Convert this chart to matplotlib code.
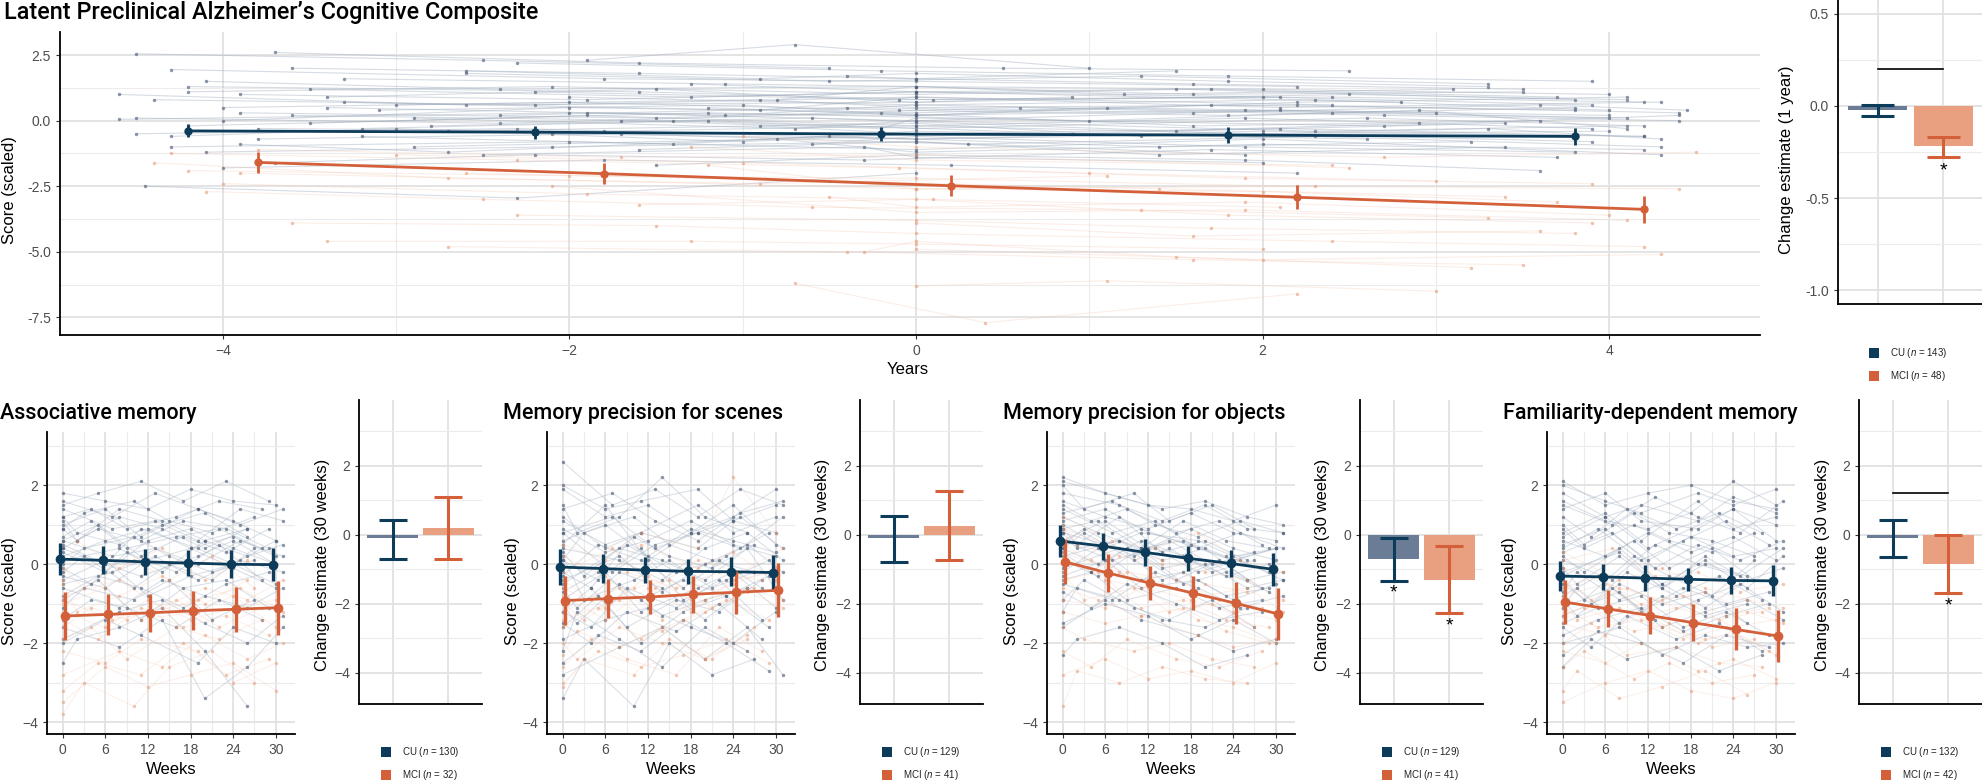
import matplotlib
matplotlib.use("Agg")
import matplotlib.pyplot as plt
from matplotlib.patches import Rectangle

# -------------------------------------------------------------------
# Data
# -------------------------------------------------------------------
# top panel: fitted means by year (CU dodged -0.2, MCI +0.2)
top_years = [-4, -2, 0, 2, 4]
top_cu_mean = [-0.39, -0.44, -0.51, -0.55, -0.60]
top_cu_err = [0.25, 0.25, 0.27, 0.29, 0.32]
top_mci_mean = [-1.59, -2.02, -2.48, -2.92, -3.38]
top_mci_err = [0.40, 0.39, 0.41, 0.45, 0.51]

# top bar panel: change estimate per year (est, low, high)
top_bar_est = [-0.02, -0.22]
top_bar_lo = [-0.053, -0.275]
top_bar_hi = [0.003, -0.167]
top_bar_star = [False, True]
top_bar_bracket = 0.2
top_n = [143, 48]

# individual trajectories, top panel (years, scores)
top_cu_x = [
    [-4.6, -2.0, 0.0, 1.9, 4.1], [-4.3, -1.8, 0.0, 2.2], [-4.5, -2.3, 0.0, 2.0, 3.9],
    [-4.2, -1.6, 0.1, 2.4, 4.3], [-4.0, -2.0, -0.1, 1.8, 3.8], [-3.9, -1.9, 0.0, 2.1],
    [-3.6, -1.4, 0.0, 2.6, 4.2], [-4.45, -2.3, 0.0], [-3.3, -1.1, 0.0, 2.0, 4.0],
    [-3.7, -2.2, -0.3, 1.7, 3.7], [-3.0, -0.9, 0.0, 2.2, 4.4], [-2.8, -0.6, 1.5, 3.4],
    [-4.1, -2.1, 0.0, 1.9], [-3.4, -1.5, 0.0, 2.5, 4.1], [-2.6, -0.5, 1.3, 3.3],
    [-4.5, -2.4, -0.2, 1.6, 3.6], [-3.8, -1.7, 0.3, 2.3, 4.3], [-2.3, -0.2, 1.8, 3.9],
    [-1.9, 0.0, 2.1, 4.0], [-3.2, -1.2, 0.9, 2.9], [-4.0, -2.0, 0.0, 1.7, 3.8],
    [-3.5, -1.3, 0.0, 2.8], [-2.9, -0.8, 0.0, 2.0, 4.2], [-1.5, 0.0, 1.9, 3.6],
    [-0.8, 0.0, 1.2, 3.1], [-4.3, -3.0, -1.0, 0.0], [-2.1, 0.0, 2.0, 4.2],
    [-3.1, -1.0, 0.0, 1.1, 3.0], [-0.4, 0.0, 1.6, 3.5], [-2.5, -0.3, 0.0, 2.0],
    [-4.2, -1.2, 1.0, 2.9, 4.1], [-3.9, -2.7, -0.5, 1.4, 3.2], [-1.2, 0.0, 2.2, 4.1],
    [-3.6, -1.6, 0.0, 1.5], [-0.6, 0.0, 1.9, 3.8], [-2.2, -0.1, 2.0, 3.9],
    [-4.6, -2.6, 0.0, 0.9], [-1.7, -0.2, 0.0, 2.7, 4.4], [-2.7, 0.0, 1.3, 3.3, 4.3],
    [-3.3, -0.9, 0.0, 2.4], [-1.9, -0.7, 1.0], [-3.8, -1.8, 0.0, 2.0, 4.0],
    [-2.4, -0.4, 1.6, 3.6, 4.45], [-4.5, -2.5, -0.5], [-3.7, -1.6, 0.5, 2.5],
    [-4.4, -2.2, 0.0, 2.1, 4.2], [-3.5, -1.9, 0.0, 1.9, 3.9], [-4.1, -2.4, 0.0, 1.6, 3.5],
    [-2.9, -0.7, 0.0, 2.3, 4.1], [-3.2, -1.4, 0.0, 2.6], [-4.3, -2.0, 0.0, 2.0, 4.3],
    [-1.3, 0.0, 1.7, 3.7], [-2.0, 0.0, 2.3, 4.0], [-3.9, -1.5, 0.6, 2.7, 4.4],
    [-0.9, 0.0, 2.1, 4.2], [-4.0, -1.8, 0.2, 2.2], [-2.6, -0.9, 0.0, 1.8, 3.3],
    [-3.4, -1.1, 0.0, 2.4, 4.0], [-1.6, 0.0, 1.4, 3.4], [-4.2, -2.1, 0.0, 1.5, 3.8],
]
top_cu_y = [
    [0.05, 0.3, 0.2, 0.4, 0.1], [1.95, 1.6, 1.5, 1.3], [-0.5, -0.3, -0.7, -0.5, -0.8],
    [1.3, 1.1, 0.8, 0.9, 0.7], [0.5, 0.7, 0.4, 0.2, 0.5], [1.0, 0.8, 1.1, 0.9],
    [0.2, 0.0, -0.3, 0.1, -0.2], [-2.5, -2.95, -2.0], [1.6, 1.4, 1.3, 1.2, 1.0],
    [-1.6, -1.3, -1.5, -1.1, -1.4], [0.6, 0.8, 0.5, 0.6, 0.3], [-0.2, 0.1, -0.4, -0.1],
    [-1.2, -1.0, -0.8, -1.3], [0.9, 1.2, 0.7, 1.0, 0.8], [1.8, 1.5, 1.7, 1.4],
    [0.1, -0.1, 0.3, -0.2, 0.0], [-0.7, -0.5, -0.9, -0.6, -1.0], [2.2, 1.9, 1.7, 1.5],
    [0.3, 0.0, 0.4, 0.2], [-0.3, 0.0, -0.5, -0.1], [0.0, 0.5, 0.3, 0.6, 0.4],
    [1.2, 0.9, 1.1, 0.7], [-1.0, -0.7, -1.2, -0.9, -1.1], [-1.7, -1.3, -1.5, -1.9],
    [0.8, 1.3, 1.0, 1.2], [-0.6, -0.3, -0.8, -0.5], [-0.5, -0.7, -0.4, -0.6],
    [0.4, 0.6, 0.2, 0.5, 0.3], [1.7, 1.6, 1.4, 1.2], [-1.3, -1.0, -1.4, -1.6],
    [-0.2, 0.3, 0.0, 0.4, -0.3], [-0.9, -1.2, -0.6, -1.0, -0.8], [0.5, 0.2, 0.7, 0.9],
    [2.0, 1.8, 1.6, 1.9], [-0.9, -0.6, -1.0, -1.2], [1.1, 0.8, 0.9, 0.6],
    [1.0, 0.6, 0.7, 0.9], [0.0, -0.3, 0.1, -0.2, 0.2], [-0.4, -0.1, -0.6, -0.3, -0.7],
    [0.7, 0.4, 0.9, 0.6], [2.3, 2.9, 2.0], [-0.3, -0.4, -0.2, -0.5, -0.4],
    [0.2, 0.5, 0.3, 0.6, 0.4], [2.55, 2.3, 2.0], [2.6, 2.2, 2.0, 1.9],
    [0.8, 0.6, 0.9, 0.5, 0.7], [-0.1, 0.2, -0.2, 0.1, -0.3], [1.5, 1.2, 1.3, 1.0, 1.1],
    [0.1, -0.3, 0.0, -0.4, -0.2], [-0.6, -0.9, -0.4, -0.7], [-1.0, -0.8, -1.1, -0.7, -1.3],
    [1.4, 1.1, 1.2, 0.9], [0.9, 0.6, 0.8, 0.4], [0.3, 0.1, 0.5, 0.2, 0.0],
    [-0.2, -0.5, -0.3, -0.6], [-1.8, -1.5, -1.7, -2.0], [1.9, 1.6, 1.8, 1.5, 1.3],
    [0.5, 0.2, 0.6, 0.3, 0.1], [-1.1, -0.8, -1.3, -1.0], [1.1, 1.3, 1.0, 1.2, 0.8],
]
top_mci_x = [
    [-4.3, -2.3, -0.1, 1.9, 3.9], [-4.0, -1.9, 0.1, 2.1], [-3.6, -1.5, 0.0, 2.4, 4.2],
    [-3.4, -1.3, 0.0, 2.0], [-2.7, -0.4, 1.6, 3.5], [-4.2, -2.0, 0.0, 2.2, 4.4],
    [-3.0, -1.0, 1.0, 3.0], [-2.1, 0.0, 1.9, 4.1], [-1.2, 0.0, 2.0, 3.7],
    [-0.3, 0.0, 1.5, 3.2], [-3.8, -1.7, 0.0, 2.5], [-0.7, 0.4, 2.2],
    [-1.6, 0.0, 1.8, 3.9], [-2.6, -0.5, 1.4, 3.4], [0.0, 1.6, 3.6],
    [-4.4, -2.7, -0.9, 1.1], [-1.0, 0.0, 2.7, 4.5], [0.0, 1.1, 3.0],
    [-3.9, -1.8, 0.0, 2.3], [-2.3, 0.0, 1.7, 3.8], [-1.3, 0.0, 2.4],
    [-0.5, 0.0, 1.9, 4.0], [-4.1, -2.5, -0.6, 1.3, 3.3], [0.0, 2.0, 4.3],
]
top_mci_y = [
    [-1.25, -1.5, -1.8, -2.2, -2.4], [-2.4, -2.8, -3.0, -3.3], [-3.9, -4.0, -4.3, -4.6, -4.8],
    [-4.6, -4.6, -4.7, -4.9], [-4.8, -5.0, -5.3, -5.5], [-1.9, -2.1, -2.2, -2.5, -2.6],
    [-1.3, -1.6, -2.0, -2.3], [-2.5, -3.5, -3.4, -3.8], [-1.7, -2.6, -2.7, -3.1],
    [-5.0, -4.6, -5.2, -5.6], [-1.1, -1.4, -1.3, -1.8], [-6.2, -7.7, -6.6],
    [-3.2, -3.0, -3.6, -3.9], [-2.0, -2.3, -2.6, -2.9], [-3.9, -4.4, -4.2],
    [-1.6, -2.2, -2.4, -2.1], [-0.6, -1.0, -1.4, -1.2], [-6.3, -6.1, -6.5],
    [-2.0, -2.3, -2.6, -2.5], [-3.6, -3.8, -4.1, -4.3], [-1.0, -1.5, -1.7],
    [-2.9, -3.3, -3.1, -3.6], [-2.7, -3.0, -3.3, -3.4, -3.7], [-4.9, -5.3, -5.1],
]

# bottom panels
weeks = [0, 6, 12, 18, 24, 30]
visit_weeks = [
    [0, 6, 12, 18, 24, 30], [0, 5, 11, 17, 23, 29], [0, 7, 13, 19, 25, 31],
    [0, 4, 9, 16, 22, 28], [0, 3, 10, 15, 21, 27], [0, 8, 14, 20, 26, 31],
    [0, 6, 11, 19, 24, 30], [0, 2, 8, 14, 20, 26],
]
titles = ["Associative memory", "Memory precision for scenes",
          "Memory precision for objects", "Familiarity-dependent memory"]

cu_mean = [
    [0.13, 0.10, 0.06, 0.03, 0.00, -0.01],
    [-0.07, -0.11, -0.15, -0.18, -0.19, -0.21],
    [0.59, 0.46, 0.30, 0.15, 0.02, -0.13],
    [-0.30, -0.32, -0.35, -0.38, -0.41, -0.42],
]
cu_err = [
    [0.41, 0.35, 0.32, 0.33, 0.35, 0.42],
    [0.45, 0.37, 0.33, 0.32, 0.37, 0.44],
    [0.41, 0.34, 0.34, 0.31, 0.34, 0.42],
    [0.38, 0.33, 0.32, 0.29, 0.34, 0.39],
]
mci_mean = [
    [-1.31, -1.27, -1.23, -1.18, -1.14, -1.10],
    [-0.92, -0.87, -0.83, -0.76, -0.71, -0.66],
    [0.06, -0.22, -0.48, -0.73, -0.99, -1.26],
    [-0.96, -1.13, -1.30, -1.48, -1.65, -1.82],
]
mci_err = [
    [0.61, 0.52, 0.48, 0.49, 0.57, 0.68],
    [0.62, 0.50, 0.44, 0.47, 0.54, 0.68],
    [0.57, 0.49, 0.43, 0.43, 0.53, 0.66],
    [0.55, 0.47, 0.46, 0.47, 0.53, 0.65],
]

# change estimate over 30 weeks: [CU, MCI]
bar_est = [[-0.10, 0.20], [-0.10, 0.25], [-0.71, -1.31], [-0.10, -0.85]]
bar_lo = [[-0.70, -0.70], [-0.79, -0.73], [-1.33, -2.28], [-0.64, -1.70]]
bar_hi = [[0.42, 1.10], [0.53, 1.26], [-0.09, -0.34], [0.42, -0.01]]
bar_star = [[False, False], [False, False], [True, True], [False, True]]
bar_bracket = [None, None, None, 1.21]
n_cu = [130, 129, 129, 132]
n_mci = [32, 41, 41, 42]

# individual scores per subject at the six visits
p1_cu = [
    [1.8, 1.6, 1.4, 1.9, 1.6, 1.5], [0.4, 0.9, 0.6, 1.1, 0.9, 0.4], [-0.5, -0.2, 0.2, -0.4, 0.1, -0.2],
    [1.2, 1.4, 0.9, 1.2, 1.6, 1.4], [-1.1, -0.6, -0.9, -0.4, -1.4, -0.9], [0.1, 0.4, -0.2, 0.6, 0.2, 0.5],
    [-2.0, -1.4, -1.8, -2.5, -1.6, -2.0], [0.9, 0.6, 1.2, 0.9, 0.4, 0.9], [-0.3, -0.6, 0.1, 0.4, -0.1, -0.6],
    [1.5, 1.8, 2.1, 1.6, 2.1, 1.6], [0.6, 0.2, 0.4, 0.0, 0.6, 0.2], [-1.4, -0.9, -1.1, -1.6, -0.9, -1.4],
    [0.0, 0.4, 0.7, 0.2, -0.2, 0.1], [-0.6, -1.1, -0.4, -0.8, -1.1, -0.6], [1.0, 1.4, 0.7, 1.4, 1.1, 0.6],
    [-2.5, -1.9, -1.6, -1.1, -2.2, -3.6], [0.3, -0.2, 0.6, 0.9, 0.4, 0.0], [-0.9, -0.4, -1.4, -0.6, -0.4, -1.1],
    [1.4, 0.9, 1.1, 0.6, 1.4, 1.1], [0.7, 1.1, 0.4, 0.7, 0.9, 0.4], [-0.2, 0.2, -0.6, 0.0, -0.4, 0.4],
    [-1.6, -2.1, -1.4, -3.4, -2.6, -1.6], [0.5, 0.0, 0.9, 0.4, 0.0, 0.6], [1.1, 0.6, 1.4, 1.1, 0.6, 0.9],
    [0.2, 0.6, 0.9, 0.4, 0.7, 0.2], [-0.8, -0.3, -0.6, -1.1, -0.5, -0.2], [1.6, 1.2, 1.8, 1.4, 1.0, 1.4],
    [-0.1, -0.5, 0.3, -0.2, 0.5, -0.4], [0.9, 1.3, 1.6, 1.1, 0.8, 1.2], [-1.9, -1.2, -0.9, -1.5, -2.0, -1.3],
    [0.4, 0.0, -0.3, 0.2, 0.6, 0.0], [1.2, 0.8, 0.5, 1.0, 1.3, 0.7], [-0.4, 0.1, -0.8, -0.3, 0.0, -0.5],
    [0.6, 1.0, 0.2, 0.7, 0.3, 0.9],
]
p1_mci = [
    [-1.6, -1.1, -1.4, -0.9, -1.6, -1.1], [-3.8, -3.0, -3.6, -2.6, -2.2, -3.0], [-0.8, -0.4, -1.1, -0.6, -0.9, -0.4],
    [-2.2, -2.5, -1.9, -2.2, -3.0, -2.5], [-0.4, 0.6, -0.1, 0.4, -0.4, 0.1], [-1.2, -1.6, -0.9, -1.4, -1.1, -0.9],
    [-3.2, -2.5, -2.8, -2.0, -2.8, -2.4], [-0.9, -1.4, -1.2, -0.9, -0.6, -1.2], [-1.9, -1.6, -2.4, -1.6, -1.9, -1.4],
    [-0.1, -0.6, 0.1, -0.4, 0.2, -0.6], [-2.8, -2.2, -2.6, -1.8, -2.4, -2.0], [-1.0, -0.6, -1.4, -1.2, -0.8, -1.6],
    [-0.5, -1.2, -0.8, -0.3, -1.0, -0.4], [-3.5, -2.6, -3.1, -2.8, -2.5, -3.2], [-1.4, -1.9, -1.1, -1.6, -1.3, -1.8],
]
p2_cu = [
    [1.9, 1.2, 1.5, 0.8, 1.2, 1.9], [-0.3, 0.5, 0.1, -0.6, 0.2, 0.8], [0.8, -0.2, 0.5, 0.8, 1.2, 0.4],
    [-1.2, -1.6, -0.6, -1.1, -0.4, -1.4], [0.1, 0.8, 1.2, 0.5, 0.1, -0.2], [-2.8, -2.1, -1.6, -2.4, -1.6, -2.8],
    [1.2, 0.4, 0.8, 1.5, 0.8, 1.2], [-0.6, -1.1, -0.2, -0.6, -1.4, -0.6], [0.5, 1.5, 0.1, 0.8, 1.5, 0.5],
    [-1.6, -0.8, -2.0, -1.2, -0.8, -1.6], [2.6, 1.5, 1.9, 1.2, 1.9, 1.5], [-0.2, -0.6, 0.5, -0.2, 0.1, -0.6],
    [-3.4, -2.4, -3.6, -2.0, -2.8, -2.4], [0.4, 0.1, -0.4, 0.4, 0.8, 0.1], [-0.9, -0.2, -1.2, -0.6, -0.2, -1.1],
    [1.5, 0.8, 1.2, 2.2, 1.2, 0.8], [-1.9, -1.4, -1.1, -1.6, -2.0, -1.2], [0.1, -0.4, 0.4, -0.9, -0.4, 0.1],
    [0.8, 1.2, 0.4, 0.8, 0.4, 1.2], [-1.2, -0.6, -1.6, -0.9, -1.2, -0.4], [0.2, -0.9, -0.4, 0.1, -0.6, -0.2],
    [-0.5, 0.4, 0.1, -0.4, 0.4, -0.9], [1.1, 0.5, 0.8, 0.4, 1.1, 0.8], [-2.2, -1.2, -1.9, -2.6, -1.6, -2.2],
    [0.9, 0.3, 0.6, 1.1, 0.5, 0.2], [-0.7, -0.2, -0.9, -0.4, -0.8, -0.3], [1.4, 1.8, 1.1, 0.6, 1.3, 1.6],
    [-1.5, -2.0, -1.2, -1.7, -1.0, -1.9], [0.3, -0.3, 0.7, 0.2, -0.1, 0.5], [-0.4, 0.2, -0.7, 0.0, 0.5, -0.2],
    [2.0, 1.4, 1.6, 1.9, 1.1, 1.5], [-1.0, -1.5, -0.5, -1.3, -0.9, -0.6], [0.6, 1.0, 0.2, 0.9, 0.6, 0.3],
    [-2.5, -1.8, -2.2, -1.4, -2.0, -2.7],
]
p2_mci = [
    [-0.4, -0.9, -0.2, -0.6, -0.2, -0.4], [-3.1, -2.4, -2.8, -1.9, -2.4, -1.6], [-1.2, -0.6, -1.4, -0.9, -0.6, -0.9],
    [0.5, 0.1, 0.8, 0.4, 2.2, 0.8], [-2.0, -2.4, -1.6, -2.0, -2.4, -1.9], [-0.8, -1.4, -0.6, -1.2, -0.4, -0.2],
    [-1.6, -1.1, -1.9, -1.4, -0.9, -1.4], [-0.2, 0.4, -0.6, 0.1, -0.2, 0.4], [-2.6, -1.9, -2.4, -2.8, -1.6, -2.2],
    [-1.0, -1.4, -0.6, -0.4, -1.1, -0.6], [-1.4, -0.9, -1.7, -1.2, -0.7, -1.1], [0.2, -0.3, 0.5, -0.1, 0.3, -0.4],
    [-2.3, -1.7, -2.1, -1.6, -2.4, -1.8], [-0.6, -1.1, -0.3, -0.9, -0.5, -0.1], [-3.0, -2.2, -2.6, -2.3, -1.9, -2.5],
]
p3_cu = [
    [2.2, 1.8, 1.5, 1.4, 1.1, 1.5], [0.9, 1.1, 0.4, 0.6, 0.2, -0.2], [1.4, 0.8, 1.1, 0.4, 0.8, 0.4],
    [-0.4, -0.2, -0.9, -0.6, -1.1, -0.9], [0.4, 0.8, 0.1, 0.4, -0.2, 0.1], [1.8, 1.5, 1.1, 1.5, 0.9, 0.8],
    [-1.6, -0.9, -1.4, -1.8, -2.2, -1.9], [0.8, 0.4, 0.6, 0.1, 0.4, -0.4], [1.1, 1.4, 0.8, 0.5, 0.1, 0.4],
    [-0.2, 0.4, -0.4, -0.2, -0.8, -0.6], [0.6, 0.1, 0.4, -0.2, 0.1, -0.4], [1.5, 1.1, 1.4, 0.8, 1.1, 0.5],
    [-0.9, -0.4, -1.1, -1.4, -0.9, -1.6], [0.2, 0.6, -0.1, 0.1, -0.4, -0.2], [1.0, 0.4, 0.8, 0.6, 0.2, 0.4],
    [-2.3, -1.9, -1.6, -2.0, -2.6, -2.3], [0.6, 1.1, 0.4, 0.9, 0.4, 0.1], [1.2, 0.8, 0.4, 1.1, 0.6, 0.4],
    [-0.5, -0.9, -0.2, -0.6, -1.1, -0.8], [0.3, -0.2, 0.4, -0.4, 0.1, -0.6], [2.0, 1.4, 1.8, 1.1, 1.5, 0.9],
    [-0.1, 0.4, -0.4, 0.0, -0.6, -0.4], [0.8, 0.5, 0.9, 0.4, 0.1, 0.4], [-1.2, -0.6, -0.9, -1.4, -1.6, -1.1],
    [1.6, 1.2, 0.9, 1.3, 0.8, 0.6], [0.1, -0.3, 0.4, -0.5, -0.2, -0.7], [1.3, 1.6, 1.0, 0.7, 1.1, 0.8],
    [-0.7, -1.1, -0.5, -1.0, -1.4, -1.2], [0.5, 0.9, 0.2, 0.6, 0.0, 0.3], [2.1, 1.7, 1.4, 1.6, 1.2, 1.0],
    [-0.3, 0.1, -0.6, -0.4, -0.9, -0.5], [0.9, 0.5, 1.2, 0.3, 0.6, 0.1], [-1.5, -1.0, -1.3, -1.9, -1.4, -2.0],
    [0.4, 0.0, 0.6, 0.2, -0.3, 0.0],
]
p3_mci = [
    [0.5, 0.1, -0.2, -0.4, -0.9, -1.1], [-1.6, -1.9, -2.2, -2.0, -2.4, -2.6], [0.9, 0.4, 0.1, -0.2, -0.4, -0.9],
    [-0.9, -1.1, -0.6, -1.4, -1.6, -2.0], [-3.6, -2.7, -3.0, -2.6, -2.9, -3.0], [0.2, -0.4, -0.6, -0.9, -1.2, -1.4],
    [-0.4, -0.2, -1.1, -0.9, -1.4, -1.6], [1.2, 0.6, 0.4, 0.8, 0.1, -0.2], [-2.2, -2.6, -1.9, -2.4, -2.6, -2.2],
    [-0.2, -0.9, -0.6, -1.2, -1.0, -1.6], [0.3, -0.2, -0.5, -0.8, -0.6, -1.2], [-1.2, -1.5, -1.3, -1.8, -2.1, -1.9],
    [1.0, 0.5, 0.2, 0.0, -0.5, -0.7], [-2.8, -2.4, -2.9, -2.7, -3.0, -2.5], [-0.6, -0.9, -1.3, -1.1, -1.7, -2.0],
]
p4_cu = [
    [2.1, 1.5, 1.8, 2.0, 1.6, 1.4], [0.4, 0.9, 0.1, 0.6, 1.1, 0.5], [-1.1, -0.6, -1.4, -0.9, -0.5, -1.2],
    [1.2, 0.7, 1.4, 0.9, 1.3, 0.8], [-0.4, -0.9, 0.2, -0.3, -0.8, 0.1], [-2.0, -1.6, -2.3, -1.8, -2.1, -2.0],
    [0.8, 1.3, 0.6, 1.6, 0.9, 1.2], [-0.7, -0.2, -0.9, -0.5, -1.1, -0.4], [1.6, 1.1, 0.9, 1.3, 2.1, 1.5],
    [-1.5, -1.1, -0.8, -1.6, -1.2, -1.8], [0.1, -0.4, 0.5, 0.0, -0.3, 0.4], [-2.6, -1.9, -2.4, -2.1, -2.7, -2.3],
    [0.9, 0.4, 1.0, 0.6, 0.3, 0.8], [-0.2, 0.3, -0.6, 0.2, -0.4, -0.1], [1.4, 1.8, 1.1, 0.9, 1.4, 1.0],
    [-0.9, -1.3, -0.5, -1.0, -0.7, -1.5], [0.6, 0.2, 0.8, 0.3, 0.7, 0.1], [-1.8, -1.4, -1.1, -1.7, -1.3, -1.0],
    [0.3, 0.8, -0.1, 0.5, 0.1, 0.6], [-0.5, -1.0, -0.2, -0.8, -0.3, -0.9], [1.0, 0.5, 1.3, 0.8, 0.6, 0.2],
    [-1.3, -0.7, -1.6, -1.2, -0.9, -1.4], [1.8, 1.2, 1.5, 1.1, 1.7, 1.3], [-0.1, -0.5, 0.2, -0.6, 0.0, -0.3],
    [0.7, 1.2, 0.4, 0.9, 1.4, 0.6], [-0.8, -0.3, -1.2, -0.6, -1.0, -0.7], [1.5, 1.0, 1.7, 1.2, 0.8, 1.6],
    [-1.6, -2.1, -1.3, -1.9, -1.5, -2.2], [0.2, -0.2, 0.6, -0.1, 0.4, -0.4], [-0.3, 0.4, -0.5, 0.1, -0.6, 0.2],
    [2.0, 1.6, 1.3, 1.8, 1.5, 1.9], [-1.1, -0.6, -1.5, -0.8, -1.3, -1.0], [0.5, 0.9, 0.1, 0.7, 0.2, 0.4],
    [-2.3, -1.7, -2.0, -2.5, -1.8, -2.1],
]
p4_mci = [
    [-0.4, -0.9, -0.6, -1.1, -1.4, -1.2], [-2.6, -2.2, -2.9, -2.5, -3.0, -2.8], [0.3, -0.4, -0.1, -0.6, -0.9, -1.1],
    [-1.5, -1.8, -1.2, -2.0, -1.7, -2.3], [-3.2, -2.7, -3.4, -3.1, -2.7, -3.3], [-0.8, -0.5, -1.3, -1.0, -1.6, -1.4],
    [-1.1, -1.6, -1.4, -1.9, -1.6, -2.2], [0.1, 0.4, -0.3, -0.2, -0.7, -0.5], [-2.0, -1.5, -2.3, -2.1, -2.5, -2.6],
    [-1.3, -1.1, -1.7, -1.5, -2.1, -1.9], [-0.1, -0.6, -0.9, -0.7, -1.2, -1.5], [-2.2, -2.5, -2.0, -2.7, -2.4, -2.9],
    [-1.0, -1.4, -1.1, -1.6, -1.9, -1.7], [-3.5, -3.0, -2.7, -3.2, -3.4, -3.0], [-0.6, -0.3, -1.0, -0.8, -1.3, -1.1],
]
subj_cu = [p1_cu, p2_cu, p3_cu, p4_cu]
subj_mci = [p1_mci, p2_mci, p3_mci, p4_mci]

# -------------------------------------------------------------------
# Styling
# -------------------------------------------------------------------
CU = "#0d3b5a"
MCI = "#d4603a"
CU_BAR = "#6b7d96"
MCI_BAR = "#e9a080"

plt.rcParams['font.family'] = ['Liberation Sans', 'DejaVu Sans']
plt.rcParams['mathtext.fontset'] = 'custom'
plt.rcParams['mathtext.it'] = 'Liberation Sans:italic'
plt.rcParams['mathtext.rm'] = 'Liberation Sans'

W, H = 1983, 781
fig = plt.figure(figsize=(W / 100, H / 100), dpi=100)
TITLE_FONT = ['Roboto', 'DejaVu Sans']


def add_ax(x0, y0, x1, y1):
    return fig.add_axes([x0 / W, 1 - y1 / H, (x1 - x0) / W, (y1 - y0) / H])


def style(ax, xmaj, xmin, ymaj, ymin, fmt=None):
    for s in ["top", "right"]:
        ax.spines[s].set_visible(False)
    for s in ["left", "bottom"]:
        ax.spines[s].set_linewidth(1.3)
        ax.spines[s].set_color("black")
    ax.set_xticks(xmaj)
    ax.set_xticks(xmin, minor=True)
    ax.set_yticks(ymaj)
    ax.set_yticks(ymin, minor=True)
    if fmt:
        ax.set_yticklabels([fmt % v for v in ymaj])
    ax.grid(which="major", color="#e2e2e2", lw=1.3)
    ax.grid(which="minor", color="#ececec", lw=0.8)
    ax.set_axisbelow(True)
    ax.tick_params(which="major", length=3, width=0.8, color="#333333",
                   labelsize=10, labelcolor="#4d4d4d")
    ax.tick_params(which="minor", length=0)


def px_text(x, y, s, **kw):
    return fig.text(x / W, 1 - y / H, s, **kw)


def draw_subjects(ax, xs_list, ys_list, line_c, pt_c, line_a, pt_a):
    for xs, ys in zip(xs_list, ys_list):
        ax.plot(xs, ys, color=line_c, lw=0.8, alpha=line_a, zorder=1)
        ax.scatter(xs, ys, s=6, color=pt_c, alpha=pt_a, lw=0, zorder=2)


def draw_means(ax, xs, means, errs, color, lw_line, ms, lw_err):
    ax.plot(xs, means, color=color, lw=lw_line, zorder=5, solid_capstyle="butt")
    ax.vlines(xs, [m - e for m, e in zip(means, errs)],
              [m + e for m, e in zip(means, errs)], color=color, lw=lw_err, zorder=5)
    ax.plot(xs, means, "o", color=color, ms=ms, zorder=6)


def draw_bars(ax, est, lo, hi, stars, bracket, star_off):
    fills = [CU_BAR, MCI_BAR]
    lines = [CU, MCI]
    for i in range(2):
        xpos = i + 1
        ax.bar(xpos, est[i], width=0.9, color=fills[i], zorder=2)
        ax.vlines(xpos, lo[i], hi[i], color=lines[i], lw=2.2, zorder=3)
        ax.hlines([lo[i], hi[i]], xpos - 0.25, xpos + 0.25, color=lines[i], lw=2.2, zorder=3)
        if stars[i]:
            ax.text(xpos, lo[i] - star_off, "*", ha="center", va="center",
                    fontsize=14, color="black", zorder=4)
    if bracket is not None:
        ax.plot([1, 2], [bracket, bracket], color="black", lw=1.2, zorder=4)
    ax.set_xlim(0.4, 2.6)
    ax.set_xticklabels([])
    ax.tick_params(axis="x", which="both", length=0)


def legend_at(x, y, ncu, nmci):
    labels = [r"CU ($\mathit{n}$ = %d)" % ncu, r"MCI ($\mathit{n}$ = %d)" % nmci]
    for k, (c, lab) in enumerate(zip([CU, MCI], labels)):
        yy = y + 23 * k
        fig.add_artist(Rectangle((x / W, 1 - (yy + 5) / H), 10 / W, 10 / H,
                                 transform=fig.transFigure, color=c, lw=0))
        px_text(x + 21, yy, lab, fontsize=7, va="center", color="#222222")


# -------------------------------------------------------------------
# Top panel: latent composite over years
# -------------------------------------------------------------------
ax = add_ax(60, 32, 1760, 335)
style(ax, [-4, -2, 0, 2, 4], [-3, -1, 1, 3],
      [-7.5, -5.0, -2.5, 0.0, 2.5], [-6.25, -3.75, -1.25, 1.25], fmt="%.1f")
draw_subjects(ax, top_cu_x, top_cu_y, "#9aa8ba", "#4f5f78", 0.4, 0.65)
draw_subjects(ax, top_mci_x, top_mci_y, "#f5c6b0", "#e79a76", 0.3, 0.6)
draw_means(ax, [t - 0.2 for t in top_years], top_cu_mean, top_cu_err, CU, 2.0, 5, 2.0)
draw_means(ax, [t + 0.2 for t in top_years], top_mci_mean, top_mci_err, MCI, 2.0, 5, 2.0)
ax.set_xlim(-4.94, 4.87)
ax.set_ylim(-8.17, 3.38)

px_text(4, 12, "Latent Preclinical Alzheimer\u2019s Cognitive Composite",
        fontsize=16.8, family=TITLE_FONT, fontweight="medium", va="center")
px_text(10, 190, "Score (scaled)", fontsize=12, rotation=90, ha="center", va="center")
px_text(908, 369, "Years", fontsize=12, ha="center", va="center")

axb = add_ax(1838, 0, 1983, 304)
style(axb, [1, 2], [], [-1.0, -0.5, 0.0, 0.5], [-0.75, -0.25, 0.25], fmt="%.1f")
draw_bars(axb, top_bar_est, top_bar_lo, top_bar_hi, top_bar_star, top_bar_bracket, 0.08)
axb.set_ylim(-1.075, 0.575)
px_text(1787, 160, "Change estimate (1 year)", fontsize=12, rotation=90, ha="center", va="center")
legend_at(1869, 353, top_n[0], top_n[1])

# -------------------------------------------------------------------
# Bottom panels: weekly tasks
# -------------------------------------------------------------------
main_x0 = [47, 547, 1047, 1547]
bar_x0 = [359, 860, 1360, 1859]
title_x = [0, 503, 1003, 1503]
ylab_x = [10, 512, 1012, 1510]
barlab_x = [323, 823, 1323, 1823]

for p in range(4):
    ax = add_ax(main_x0[p], 432, main_x0[p] + 248, 734)
    style(ax, weeks, [3, 9, 15, 21, 27], [-4, -2, 0, 2], [-3, -1, 1, 3])
    cu_xs = [visit_weeks[i % len(visit_weeks)] for i in range(len(subj_cu[p]))]
    mci_xs = [visit_weeks[(i + 3) % len(visit_weeks)] for i in range(len(subj_mci[p]))]
    draw_subjects(ax, cu_xs, subj_cu[p], "#9aa8ba", "#4f5f78", 0.35, 0.65)
    draw_subjects(ax, mci_xs, subj_mci[p], "#f5c6b0", "#e79a76", 0.25, 0.55)
    draw_means(ax, [w - 0.35 for w in weeks], cu_mean[p], cu_err[p], CU, 2.0, 6, 2.4)
    draw_means(ax, [w + 0.35 for w in weeks], mci_mean[p], mci_err[p], MCI, 2.0, 6, 2.4)
    ax.set_xlim(-2.2, 32.7)
    ax.set_ylim(-4.3, 3.35)

    px_text(title_x[p], 413, titles[p], fontsize=15.5, family=TITLE_FONT,
            fontweight="medium", va="center")
    px_text(ylab_x[p], 591, "Score (scaled)", fontsize=12, rotation=90, ha="center", va="center")
    px_text(main_x0[p] + 124, 770, "Weeks", fontsize=12, ha="center", va="center")

    axb = add_ax(bar_x0[p], 400, bar_x0[p] + 123, 704)
    style(axb, [1, 2], [], [-4, -2, 0, 2], [-3, -1, 1, 3])
    draw_bars(axb, bar_est[p], bar_lo[p], bar_hi[p], bar_star[p], bar_bracket[p], 0.35)
    axb.set_ylim(-4.9, 3.9)
    px_text(barlab_x[p], 565, "Change estimate (30 weeks)", fontsize=12, rotation=90,
            ha="center", va="center")
    legend_at(bar_x0[p] + 22, 752, n_cu[p], n_mci[p])

fig.savefig("out.png", dpi=100, facecolor="white")
